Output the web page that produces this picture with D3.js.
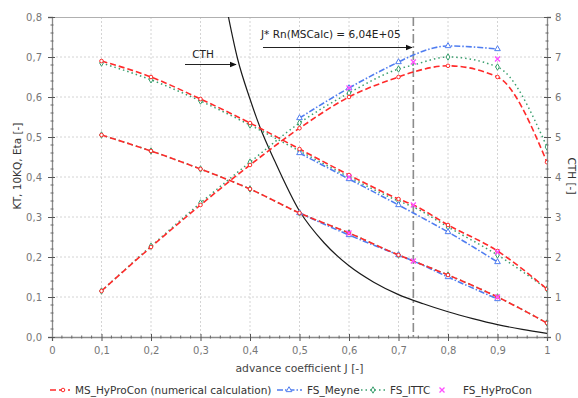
<!DOCTYPE html>
<html>
<head>
<meta charset="utf-8">
<script src="https://cdn.jsdelivr.net/npm/d3@7"></script>
<style>
  html, body { margin: 0; padding: 0; background: #ffffff; }
  svg { display: block; font-family: "DejaVu Sans", Verdana, sans-serif; }
</style>
</head>
<body>
<svg id="chart" width="578" height="398"></svg>
<script>
// ---- data ----
const J = [0.1, 0.2, 0.3, 0.4, 0.5, 0.6, 0.7, 0.73, 0.8, 0.9, 1.0];
const msKT   = [0.505, 0.465, 0.42, 0.37, 0.31, 0.26, 0.205, 0.19, 0.155, 0.10, 0.035];
const msKQ10 = [0.69, 0.65, 0.595, 0.535, 0.47, 0.405, 0.345, 0.33, 0.28, 0.215, 0.12];
const msEta  = [0.115, 0.225, 0.33, 0.43, 0.522, 0.60, 0.65, 0.6625, 0.678, 0.65, 0.437];

const ittcKT   = [0.505, 0.465, 0.42, 0.37, 0.31, 0.26, 0.205, 0.19, 0.155, 0.10, 0.035];
const ittcKQ10 = [0.685, 0.643, 0.59, 0.53, 0.465, 0.40, 0.34, 0.325, 0.275, 0.205, 0.12];
const ittcEta  = [0.115, 0.227, 0.335, 0.437, 0.535, 0.61, 0.67, 0.68, 0.70, 0.675, 0.475];

const meyneJ    = [0.5, 0.6, 0.7, 0.73, 0.8, 0.9];
const meyneKT   = [0.31, 0.255, 0.205, 0.19, 0.15, 0.095];
const meyneKQ10 = [0.46, 0.395, 0.33, 0.31, 0.2625, 0.1875];
const meyneEta  = [0.5475, 0.6225, 0.6875, 0.705, 0.7275, 0.72];

const hypJ    = [0.6, 0.73, 0.9];
const hypKT   = [0.26, 0.19, 0.10];
const hypKQ10 = [0.40, 0.33, 0.2125];
const hypEta  = [0.6225, 0.6875, 0.695];

const cthJ = [0.35, 0.375, 0.4, 0.42, 0.45, 0.5, 0.55, 0.6, 0.65, 0.7, 0.75, 0.8, 0.85, 0.9, 0.95, 1.0];
const cth  = [8.4, 6.95, 5.95, 5.25, 4.4, 3.15, 2.35, 1.78, 1.37, 1.06, 0.83, 0.63, 0.46, 0.31, 0.19, 0.09];

const jStar = 0.73;
const xTicks = [0, 0.1, 0.2, 0.3, 0.4, 0.5, 0.6, 0.7, 0.8, 0.9, 1];
const xTickLabels = ["0", "0,1", "0,2", "0,3", "0,4", "0,5", "0,6", "0,7", "0,8", "0,9", "1"];
const yTicks = [0, 0.1, 0.2, 0.3, 0.4, 0.5, 0.6, 0.7, 0.8];
const yTickLabels = ["0,0", "0,1", "0,2", "0,3", "0,4", "0,5", "0,6", "0,7", "0,8"];
const y2Ticks = [0, 1, 2, 3, 4, 5, 6, 7, 8];

const legendNames = ["MS_HyProCon (numerical calculation)", "FS_Meyne", "FS_ITTC", "FS_HyProCon"];

// ---- layout ----
const svg = d3.select("#chart");
const L = 52, R = 547, T = 17, B = 337;
const x = d3.scaleLinear().domain([0, 1]).range([L, R]);
const y = d3.scaleLinear().domain([0, 0.8]).range([B, T]);
const y2 = d3.scaleLinear().domain([0, 8]).range([B, T]);

const RED = "#ff2a2a", BLUE = "#4f7df0", GREEN = "#3a9f6e", PINK = "#ff4dff";
const axisCol = "#8a8a8a", tickText = "#777";

// grid
const grid = svg.append("g");
xTicks.slice(1, -1).forEach(v => grid.append("line")
  .attr("x1", x(v)).attr("x2", x(v)).attr("y1", T).attr("y2", B)
  .attr("stroke", "#d4d4d4").attr("stroke-dasharray", "2,2").attr("stroke-width", 1));
yTicks.slice(1, -1).forEach(v => grid.append("line")
  .attr("x1", L).attr("x2", R).attr("y1", y(v)).attr("y2", y(v))
  .attr("stroke", "#d4d4d4").attr("stroke-dasharray", "2,2").attr("stroke-width", 1));

// frame
svg.append("line").attr("x1", L).attr("x2", R).attr("y1", T + 0.5).attr("y2", T + 0.5).attr("stroke", "#b0b0b0");

// axes
const xAxis = d3.axisBottom(x).tickValues(xTicks).tickFormat((d, i) => xTickLabels[i]).tickSize(4).tickPadding(6);
const gx = svg.append("g").attr("transform", `translate(0,${B})`).call(xAxis);
const yAxis = d3.axisLeft(y).tickValues(yTicks).tickFormat((d, i) => yTickLabels[i]).tickSize(4).tickPadding(6);
const gy = svg.append("g").attr("transform", `translate(${L},0)`).call(yAxis);
const y2Axis = d3.axisRight(y2).tickValues(y2Ticks).tickFormat(d3.format("d")).tickSize(4).tickPadding(4);
const gy2 = svg.append("g").attr("transform", `translate(${R},0)`).call(y2Axis);
[gx, gy, gy2].forEach(g => {
  g.select(".domain").attr("stroke", axisCol).attr("stroke-width", 1.3);
  g.selectAll(".tick line").attr("stroke", "#555");
  g.selectAll(".tick text").attr("fill", tickText).attr("font-size", 10).attr("font-family", "DejaVu Sans, sans-serif");
});
gy.selectAll(".tick line").attr("x1", 3);
gy2.selectAll(".tick line").attr("x1", -3);
gx.selectAll(".tick line").attr("y1", -3);

// minor ticks
const minorX = d3.range(0, 1.0001, 0.02).filter(v => Math.abs(v * 10 - Math.round(v * 10)) > 1e-6);
minorX.forEach(v => svg.append("line").attr("x1", x(v)).attr("x2", x(v)).attr("y1", B - 1.5).attr("y2", B + 1.5).attr("stroke", "#666"));
const minorY = d3.range(0, 0.8001, 0.02).filter(v => Math.abs(v * 10 - Math.round(v * 10)) > 1e-6);
minorY.forEach(v => svg.append("line").attr("x1", L - 1.5).attr("x2", L + 1.5).attr("y1", y(v)).attr("y2", y(v)).attr("stroke", "#666"));
const minorY2 = d3.range(0, 8.001, 0.2).filter(v => Math.abs(v - Math.round(v)) > 1e-6);
minorY2.forEach(v => svg.append("line").attr("x1", R - 1.5).attr("x2", R + 1.5).attr("y1", y2(v)).attr("y2", y2(v)).attr("stroke", "#666"));

// axis titles
svg.append("text").attr("x", (L + R) / 2).attr("y", 372).attr("text-anchor", "middle")
  .attr("font-size", 10.8).attr("fill", "#444").text("advance coefficient J [-]");
svg.append("text").attr("transform", `translate(21,166) rotate(-90)`).attr("text-anchor", "middle")
  .attr("font-size", 10.5).attr("fill", "#333").text("KT, 10KQ, Eta [-]");
svg.append("text").attr("transform", `translate(568,176) rotate(90)`).attr("text-anchor", "middle")
  .attr("font-size", 10.5).attr("fill", "#333").text("CTH [-]");

// clip
svg.append("clipPath").attr("id", "clip").append("rect").attr("x", L).attr("y", T).attr("width", R - L).attr("height", B - T);
const plot = svg.append("g").attr("clip-path", "url(#clip)");

// J* vertical line
plot.append("line").attr("x1", x(jStar)).attr("x2", x(jStar)).attr("y1", T).attr("y2", B)
  .attr("stroke", "#8c8c8c").attr("stroke-width", 1.6).attr("stroke-dasharray", "9,3,2,3");

// CTH curve
const lineC = d3.line().x((d, i) => x(cthJ[i])).y(d => y2(d)).curve(d3.curveMonotoneX);
plot.append("path").attr("d", lineC(cth)).attr("fill", "none").attr("stroke", "#1a1a1a").attr("stroke-width", 1.2);

function drawSeries(jArr, vals, color, dash, width) {
  const ln = d3.line().x((d, i) => x(jArr[i])).y(d => y(d)).curve(d3.curveMonotoneX);
  plot.append("path").attr("d", ln(vals)).attr("fill", "none").attr("stroke", color)
    .attr("stroke-width", width).attr("stroke-dasharray", dash);
}
function markers(jArr, vals, kind, color) {
  const g = plot.append("g");
  vals.forEach((v, i) => {
    if (Math.abs(jArr[i] - 0.73) < 1e-6) return;
    const cx = x(jArr[i]), cy = y(v);
    if (kind === "circle") {
      g.append("circle").attr("cx", cx).attr("cy", cy).attr("r", 1.8).attr("fill", "#fff").attr("stroke", color).attr("stroke-width", 1);
    } else if (kind === "tri") {
      g.append("path").attr("d", d3.symbol(d3.symbolTriangle, 14)()).attr("transform", `translate(${cx},${cy})`)
        .attr("fill", "#fff").attr("stroke", color).attr("stroke-width", 1);
    } else if (kind === "dia") {
      g.append("path").attr("d", d3.symbol(d3.symbolDiamond, 12)()).attr("transform", `translate(${cx},${cy})`)
        .attr("fill", "#fff").attr("stroke", color).attr("stroke-width", 1);
    }
  });
}

// FS_ITTC (green dotted)
[ittcKT, ittcKQ10, ittcEta].forEach(s => drawSeries(J, s, GREEN, "1.5,3", 1.5));
// FS_Meyne (blue dash-dot)
[meyneKT, meyneKQ10, meyneEta].forEach(s => drawSeries(meyneJ, s, BLUE, "6,2,1.5,2", 1.6));
// MS_HyProCon (red dashed)
[msKT, msKQ10, msEta].forEach(s => drawSeries(J, s, RED, "6,3", 1.6));

[ittcKT, ittcKQ10, ittcEta].forEach(s => markers(J, s, "dia", GREEN));
[meyneKT, meyneKQ10, meyneEta].forEach(s => markers(meyneJ, s, "tri", BLUE));
[msKT, msKQ10, msEta].forEach(s => markers(J, s, "circle", RED));

// FS_HyProCon pink crosses
[hypKT, hypKQ10, hypEta].forEach(s => {
  s.forEach((v, i) => {
    plot.append("path").attr("d", d3.symbol(d3.symbolX, 18)()).attr("transform", `translate(${x(hypJ[i])},${y(v)})`)
      .attr("fill", "none").attr("stroke", PINK).attr("stroke-width", 1.3);
  });
});

// annotations
const defs = svg.append("defs");
defs.append("marker").attr("id", "arr").attr("viewBox", "0 0 10 10").attr("refX", 9).attr("refY", 5)
  .attr("markerWidth", 7).attr("markerHeight", 7).attr("orient", "auto")
  .append("path").attr("d", "M0,1 L10,5 L0,9 Z").attr("fill", "#111");

svg.append("text").attr("x", 203).attr("y", 58).attr("text-anchor", "middle").attr("font-size", 10.5).attr("fill", "#222").text("CTH");
svg.append("line").attr("x1", 185).attr("x2", 236).attr("y1", 64.5).attr("y2", 64.5).attr("stroke", "#222").attr("stroke-width", 1).attr("marker-end", "url(#arr)");

svg.append("text").attr("x", 261).attr("y", 38).attr("font-size", 10.5).attr("fill", "#222").text("J* Rn(MSCalc) = 6,04E+05");
svg.append("line").attr("x1", 263).attr("x2", 412).attr("y1", 47.5).attr("y2", 47.5).attr("stroke", "#222").attr("stroke-width", 1).attr("marker-end", "url(#arr)");

// legend
const lg = svg.append("g").attr("font-size", 10.5).attr("fill", "#333");
const ly = 390;
// red
lg.append("line").attr("x1", 50).attr("x2", 70).attr("y1", ly).attr("y2", ly).attr("stroke", RED).attr("stroke-width", 1.6).attr("stroke-dasharray", "6,3");
lg.append("circle").attr("cx", 63).attr("cy", ly).attr("r", 1.8).attr("fill", "#fff").attr("stroke", RED);
lg.append("text").attr("x", 75).attr("y", ly + 4).attr("fill", "#333").text(legendNames[0]);
// blue
lg.append("line").attr("x1", 277).attr("x2", 302).attr("y1", ly).attr("y2", ly).attr("stroke", BLUE).attr("stroke-width", 1.6).attr("stroke-dasharray", "6,2,1.5,2");
lg.append("path").attr("d", d3.symbol(d3.symbolTriangle, 14)()).attr("transform", `translate(289,${ly})`).attr("fill", "#fff").attr("stroke", BLUE);
lg.append("text").attr("x", 307).attr("y", ly + 4).attr("fill", "#333").text(legendNames[1]);
// green
lg.append("line").attr("x1", 361).attr("x2", 386).attr("y1", ly).attr("y2", ly).attr("stroke", GREEN).attr("stroke-width", 1.5).attr("stroke-dasharray", "1.5,3");
lg.append("path").attr("d", d3.symbol(d3.symbolDiamond, 12)()).attr("transform", `translate(373,${ly})`).attr("fill", "#fff").attr("stroke", GREEN);
lg.append("text").attr("x", 390).attr("y", ly + 4).attr("fill", "#333").text(legendNames[2]);
// pink
lg.append("path").attr("d", d3.symbol(d3.symbolX, 18)()).attr("transform", `translate(442,${ly})`).attr("fill", "none").attr("stroke", PINK).attr("stroke-width", 1.3);
lg.append("text").attr("x", 463).attr("y", ly + 4).attr("fill", "#333").text(legendNames[3]);
</script>
</body>
</html>
